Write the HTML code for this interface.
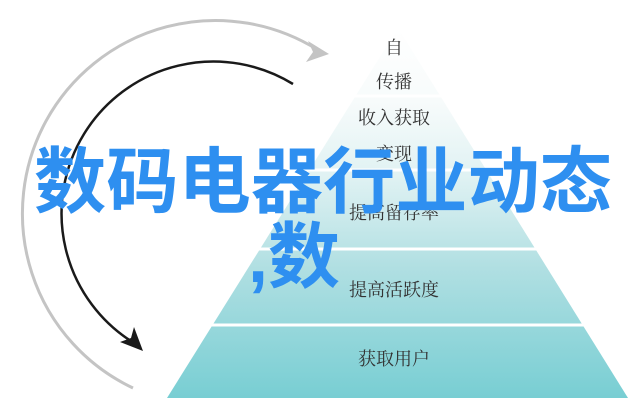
<!DOCTYPE html>
<html><head><meta charset="utf-8"><style>
html,body{margin:0;padding:0;background:#fff;}
svg{display:block}
</style></head><body>
<svg width="640" height="412" viewBox="0 0 640 412" xmlns="http://www.w3.org/2000/svg">
<defs>
<linearGradient id="g" x1="0" y1="0" x2="0" y2="1">
<stop offset="0" stop-color="#ffffff"/>
<stop offset="0.2" stop-color="#f7fbfb"/>
<stop offset="0.4" stop-color="#e0f2f3"/>
<stop offset="0.65" stop-color="#b0dfe2"/>
<stop offset="1" stop-color="#78ced3"/>
</linearGradient>
</defs>
<polygon points="398,28 628,398 167,398" fill="url(#g)"/>
<g stroke="#fff" stroke-width="3">
<line x1="100" y1="96" x2="700" y2="96"/>
<line x1="100" y1="170" x2="700" y2="170"/>
<line x1="100" y1="249" x2="700" y2="249"/>
<line x1="100" y1="325" x2="700" y2="325"/>
</g>
<rect x="0" y="399" width="640" height="13" fill="#fff"/>
<path d="M133,388 A193,193 0 1 1 318,50" fill="none" stroke="#c4c4c4" stroke-width="3"/>
<polygon points="329,54 308,41 313,52 306,62" fill="#c4c4c4"/>
<path d="M293,84 A150,150 0 1 0 134,343" fill="none" stroke="#1a1a1a" stroke-width="2.5"/>
<polygon points="143,351 120,342 131,338 134,327" fill="#1a1a1a"/>
<g font-family="'Liberation Serif','Noto Serif CJK SC',serif" font-size="18" fill="#333" text-anchor="middle">
<text x="394" y="54">自</text>
<text x="394" y="88">传播</text>
<text x="394" y="124">收入获取</text>
<text x="394" y="160">变现</text>
<text x="394" y="219">提高留存率</text>
<text x="394" y="296">提高活跃度</text>
<text x="394" y="365">获取用户</text>
</g>
<g font-family="'Liberation Sans','Noto Sans CJK SC',sans-serif" font-weight="bold" fill="#2e8ff0">
<text x="34" y="207" font-size="72" textLength="578" lengthAdjust="spacingAndGlyphs">数码电器行业动态</text>
<text x="248" y="282" font-size="72">,数</text>
</g>
</svg>
</body></html>
